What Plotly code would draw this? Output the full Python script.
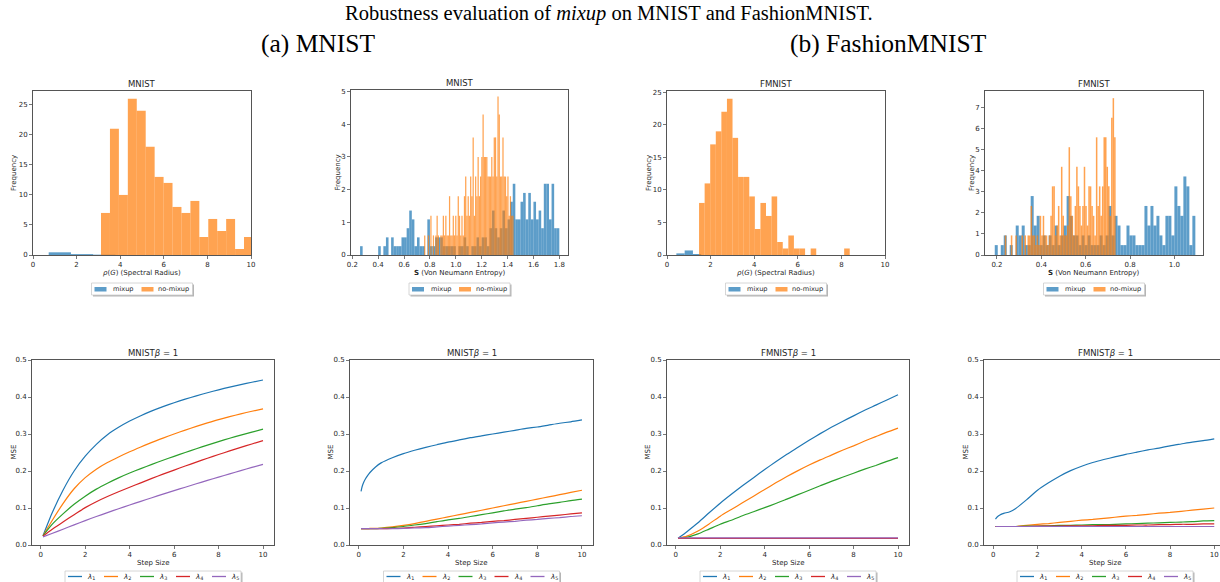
import plotly.graph_objects as go

W, H = 1220, 582

# ---------------- data ----------------
# (a) MNIST spectral radius histogram
mnist_rho_mixup_start, mnist_rho_mixup_width = 0.72, 1.02
mnist_rho_mixup = [0.45, 0.15, 0.06]
mnist_rho_nomix_start, mnist_rho_nomix_width = 3.12, 0.41
mnist_rho_nomix = [7, 21, 10, 26, 24, 18, 13, 12, 8, 7, 9, 3, 6, 4, 6, 1, 3]

# (a) MNIST von Neumann entropy histogram
mnist_S_mixup_start, mnist_S_mixup_width = 0.26, 0.02
mnist_S_mixup = [0.27, 0, 0, 0, 0, 0, 0, 0.27, 0, 0.27, 0.54, 0, 0.54, 0.27, 0.27, 0.27,
                 0.54, 0.54, 0.82, 1.36, 1.09, 0.27, 0.54, 0.27, 0.27, 0, 1.09, 0.27, 0.27,
                 0.54, 0.54, 0.54, 0.27, 0.27, 0.27, 0.27, 0.27, 0, 0.27, 0.27, 0.54, 0.27,
                 0, 0.27, 0.27, 0.54, 0.27, 0.54, 0.54, 0.27, 0.82, 1.36, 0.82, 0.54, 0.82,
                 1.36, 0.82, 1.09, 1.63, 2.18, 1.09, 1.09, 1.63, 1.9, 1.09, 1.9, 1.09, 1.63,
                 1.09, 1.36, 0.82, 2.18, 2.18, 1.09, 2.18, 0.82, 0.82]
mnist_S_nomix_start, mnist_S_nomix_width = 0.755, 0.0096
mnist_S_nomix = [0.6, 0, 0, 0.6, 0, 1.2, 0, 0.6, 0, 0.6, 1.2, 0.6, 0, 0.6, 0.6, 1.2, 0.6,
                 1.2, 0.6, 0.6, 1.8, 0.6, 0.6, 1.2, 0.6, 1.2, 0.6, 1.8, 1.2, 0.6, 1.2, 0.6,
                 1.8, 2.4, 1.2, 1.8, 1.2, 2.4, 1.8, 3.6, 1.2, 2.4, 1.8, 3.0, 1.8, 2.4, 3.0,
                 4.3, 3.0, 3.0, 3.0, 2.4, 2.4, 2.4, 3.0, 2.4, 3.6, 3.6, 2.4, 4.85, 4.3, 2.4,
                 2.4, 3.6, 2.4, 2.4, 1.8, 2.4, 1.2, 1.8, 1.2, 1.2]

# (b) FMNIST spectral radius histogram
fmnist_rho_mixup_start, fmnist_rho_mixup_width = 0.43, 0.38
fmnist_rho_mixup = [0.25, 0.7, 0.15]
fmnist_rho_nomix_start, fmnist_rho_nomix_width = 1.47, 0.256
fmnist_rho_nomix = [8, 11, 17, 19, 22, 24, 18, 12, 12, 9, 4, 8, 6, 9, 2, 1, 3, 1, 1, 0, 1,
                    0, 0, 0, 0, 0, 1]

# (b) FMNIST von Neumann entropy histogram
fmnist_S_mixup_start, fmnist_S_mixup_width = 0.19, 0.0135
fmnist_S_mixup = [0.47, 0, 0.47, 0.93, 0, 0.47, 0, 1.4, 0.93, 1.4, 0.47, 0.47, 2.8, 1.4,
                  1.86, 0.47, 0.93, 0.47, 0.93, 0.47, 1.4, 0.47, 0.93, 1.4, 2.8, 1.86, 0.93,
                  0.93, 0.47, 0.93, 0.47, 0.93, 0.47, 0.47, 0.47, 0.93, 0.47, 0.93, 2.33,
                  0.93, 1.86, 1.4, 0.47, 0.47, 1.4, 0.93, 0.93, 0.47, 0.47, 0.47, 2.33, 1.4,
                  2.33, 1.4, 1.86, 0.93, 0.47, 1.86, 1.86, 0.93, 3.26, 2.33, 1.86, 3.73,
                  3.26, 0.47, 1.86]
fmnist_S_nomix_start, fmnist_S_nomix_width = 0.235, 0.00685
fmnist_S_nomix = [0.93, 0, 0, 0, 0.93, 0, 0, 0.93, 0, 0, 0, 0.93, 0, 0.93, 0, 0.93, 0.93,
                  2.33, 0.93, 0.93, 0.47, 0.93, 0.47, 1.86, 0.93, 1.86, 0.93, 0.93, 0.47,
                  0.93, 1.86, 3.26, 3.26, 0.93, 1.4, 2.33, 0.93, 4.19, 1.86, 0.93, 0.93,
                  1.4, 5.12, 2.79, 1.86, 0.93, 2.33, 4.19, 3.26, 2.33, 1.4, 2.33, 4.19, 2.33,
                  1.4, 3.26, 3.26, 2.33, 1.86, 0.93, 5.59, 2.33, 3.26, 1.86, 3.26, 5.59,
                  5.59, 4.19, 3.26, 1.86, 6.52, 7.45, 5.59]

# MSE vs step size curves
step_x = [0.1, 0.5, 1.0, 1.5, 2.0, 2.5, 3.0, 3.5, 4.0, 4.5, 5.0, 5.5, 6.0, 6.5, 7.0,
          7.5, 8.0, 8.5, 9.0, 9.5, 10.0]
mnist_mse_a = [
    [0.025, 0.085, 0.148, 0.2, 0.24, 0.272, 0.298, 0.318, 0.335, 0.3495, 0.3625, 0.374,
     0.3845, 0.3942, 0.4032, 0.4116, 0.4194, 0.4267, 0.4335, 0.4399, 0.4459],
    [0.025, 0.065, 0.112, 0.152, 0.182, 0.205, 0.223, 0.238, 0.252, 0.265, 0.2775, 0.289,
     0.3, 0.3105, 0.3205, 0.33, 0.339, 0.347, 0.3545, 0.3615, 0.368],
    [0.025, 0.055, 0.084, 0.11, 0.132, 0.151, 0.167, 0.1815, 0.1945, 0.2065, 0.218, 0.229,
     0.2397, 0.2501, 0.2602, 0.27, 0.2794, 0.2884, 0.297, 0.3052, 0.313],
    [0.024, 0.042, 0.062, 0.082, 0.101, 0.117, 0.131, 0.144, 0.156, 0.168, 0.18, 0.1915,
     0.2025, 0.2135, 0.224, 0.2345, 0.2445, 0.2543, 0.2638, 0.2731, 0.2821],
    [0.022, 0.031, 0.0425, 0.0545, 0.066, 0.077, 0.0875, 0.098, 0.108, 0.118, 0.1278,
     0.1374, 0.1469, 0.1562, 0.1654, 0.1745, 0.1835, 0.1923, 0.201, 0.2096, 0.218],
]
step_x_fine = [0.1, 0.15, 0.2, 0.3, 0.4, 0.5, 0.75, 1.0, 1.5, 2.0, 2.5, 3.0, 3.5, 4.0,
               4.5, 5.0, 5.5, 6.0, 6.5, 7.0, 7.5, 8.0, 8.5, 9.0, 9.5, 10.0]
mnist_mse_b = [
    [0.145, 0.158, 0.167, 0.179, 0.188, 0.196, 0.211, 0.222, 0.236, 0.247, 0.256, 0.264,
     0.271, 0.278, 0.284, 0.29, 0.295, 0.3, 0.305, 0.31, 0.315, 0.319, 0.324, 0.329, 0.333, 0.338],
    [0.044, 0.044, 0.044, 0.044, 0.044, 0.045, 0.045, 0.046, 0.049, 0.053, 0.058, 0.064,
     0.07, 0.076, 0.082, 0.088, 0.094, 0.1, 0.106, 0.112, 0.118, 0.124, 0.13, 0.136, 0.142, 0.148],
    [0.044, 0.044, 0.044, 0.044, 0.044, 0.044, 0.044, 0.045, 0.047, 0.05, 0.054, 0.058,
     0.063, 0.068, 0.072, 0.077, 0.082, 0.087, 0.092, 0.097, 0.101, 0.106, 0.111, 0.115, 0.12, 0.124],
    [0.044, 0.044, 0.044, 0.044, 0.044, 0.044, 0.044, 0.044, 0.045, 0.046, 0.048, 0.05,
     0.052, 0.054, 0.056, 0.059, 0.061, 0.064, 0.066, 0.069, 0.072, 0.075, 0.078, 0.081, 0.084, 0.087],
    [0.044, 0.044, 0.044, 0.044, 0.044, 0.044, 0.044, 0.044, 0.044, 0.045, 0.046, 0.047,
     0.049, 0.051, 0.053, 0.055, 0.057, 0.06, 0.062, 0.064, 0.067, 0.069, 0.072, 0.074, 0.077, 0.079],
]
fmnist_mse_a = [
    [0.018, 0.036, 0.06, 0.087, 0.113, 0.137, 0.16, 0.182, 0.204, 0.225, 0.245, 0.264, 0.283,
     0.301, 0.318, 0.334, 0.349, 0.364, 0.378, 0.392, 0.406],
    [0.018, 0.024, 0.038, 0.057, 0.078, 0.096, 0.114, 0.132, 0.15, 0.168, 0.185, 0.201, 0.216,
     0.23, 0.243, 0.256, 0.268, 0.281, 0.293, 0.305, 0.316],
    [0.018, 0.021, 0.03, 0.043, 0.056, 0.067, 0.079, 0.09, 0.101, 0.112, 0.124, 0.136, 0.148,
     0.16, 0.172, 0.183, 0.194, 0.205, 0.215, 0.226, 0.236],
    [0.018] * 21,
    [0.019] * 21,
]
fmnist_mse_b = [
    [0.07, 0.074, 0.077, 0.081, 0.084, 0.086, 0.09, 0.098, 0.122, 0.148, 0.168, 0.186, 0.201,
     0.213, 0.223, 0.231, 0.238, 0.245, 0.251, 0.257, 0.262, 0.268, 0.273, 0.278, 0.282, 0.287],
    [0.05, 0.05, 0.05, 0.05, 0.05, 0.05, 0.05, 0.05, 0.053, 0.056, 0.058, 0.061, 0.064, 0.067,
     0.069, 0.072, 0.075, 0.078, 0.08, 0.083, 0.086, 0.088, 0.091, 0.094, 0.097, 0.1],
    [0.05, 0.05, 0.05, 0.05, 0.05, 0.05, 0.05, 0.05, 0.051, 0.051, 0.052, 0.053, 0.053, 0.054,
     0.055, 0.055, 0.056, 0.057, 0.058, 0.059, 0.06, 0.061, 0.062, 0.063, 0.065, 0.066],
    [0.05, 0.05, 0.05, 0.05, 0.05, 0.05, 0.05, 0.05, 0.05, 0.051, 0.051, 0.051, 0.052, 0.052,
     0.052, 0.053, 0.053, 0.053, 0.054, 0.054, 0.055, 0.055, 0.056, 0.056, 0.057, 0.057],
    [0.05] * 26,
]
lambda_names = ["<i>λ</i><sub>1</sub>", "<i>λ</i><sub>2</sub>", "<i>λ</i><sub>3</sub>",
                "<i>λ</i><sub>4</sub>", "<i>λ</i><sub>5</sub>"]
hist_names = ["mixup", "no-mixup"]

# ---------------- styling ----------------
TAB = ["#1f77b4", "#ff7f0e", "#2ca02c", "#d62728", "#9467bd"]
TAB_A = ["rgba(31,119,180,0.72)", "rgba(255,127,14,0.72)"]
FONT = "DejaVu Sans"
AX_COL = "#555555"
TXT_COL = "#262626"


def px_x(p):
    return p / W


def px_y(p):
    return 1 - p / H


# panel pixel boxes (left, right, top, bottom)
panels = [
    (33, 251, 91, 255), (351, 568, 90, 255), (667, 885, 91, 255), (985, 1203, 91, 255),
    (32, 274, 360, 545), (350, 593, 360, 545), (667, 909, 360, 545), (984, 1220, 360, 545),
]
centers = [142, 459.5, 776, 1094, 153, 471.5, 788, 1105]

fig = go.Figure()


def edges(start, width, n):
    return [start + width * i for i in range(n)]


def add_hist(idx, specs):
    ax = "" if idx == 1 else str(idx)
    for k, (start, width, vals) in enumerate(specs):
        fig.add_trace(go.Bar(
            x=edges(start, width, len(vals)), y=vals, width=width, offset=0,
            name=hist_names[k], marker=dict(color=TAB_A[k], line=dict(width=0)),
            xaxis="x" + ax, yaxis="y" + ax, showlegend=False,
        ))


def add_lines(idx, xs, series):
    ax = str(idx)
    for k, ys in enumerate(series):
        fig.add_trace(go.Scatter(
            x=xs, y=ys, mode="lines", name=lambda_names[k],
            line=dict(color=TAB[k], width=1.2, shape="spline", smoothing=0.6),
            xaxis="x" + ax, yaxis="y" + ax, showlegend=False,
        ))


add_hist(1, [(mnist_rho_mixup_start, mnist_rho_mixup_width, mnist_rho_mixup),
             (mnist_rho_nomix_start, mnist_rho_nomix_width, mnist_rho_nomix)])
add_hist(2, [(mnist_S_mixup_start, mnist_S_mixup_width, mnist_S_mixup),
             (mnist_S_nomix_start, mnist_S_nomix_width, mnist_S_nomix)])
add_hist(3, [(fmnist_rho_mixup_start, fmnist_rho_mixup_width, fmnist_rho_mixup),
             (fmnist_rho_nomix_start, fmnist_rho_nomix_width, fmnist_rho_nomix)])
add_hist(4, [(fmnist_S_mixup_start, fmnist_S_mixup_width, fmnist_S_mixup),
             (fmnist_S_nomix_start, fmnist_S_nomix_width, fmnist_S_nomix)])
add_lines(5, step_x, mnist_mse_a)
add_lines(6, step_x_fine, mnist_mse_b)
add_lines(7, step_x, fmnist_mse_a)
add_lines(8, step_x_fine, fmnist_mse_b)

x_ranges = [[0, 10], [0.19, 1.867], [0, 10], [0.146, 1.129],
            [-0.395, 10.495], [-0.395, 10.495], [-0.395, 10.495], [-0.42, 10.26]]
y_ranges = [[0, 27.3], [0, 5.05], [0, 25.2], [0, 7.79],
            [0, 0.5], [0, 0.5], [0, 0.5], [0, 0.5]]
x_ticks = [[0, 2, 4, 6, 8, 10], [0.2, 0.4, 0.6, 0.8, 1.0, 1.2, 1.4, 1.6, 1.8],
           [0, 2, 4, 6, 8, 10], [0.2, 0.4, 0.6, 0.8, 1.0]] + [[0, 2, 4, 6, 8, 10]] * 4
y_ticks = [[0, 5, 10, 15, 20, 25], [0, 1, 2, 3, 4, 5], [0, 5, 10, 15, 20, 25],
           [0, 1, 2, 3, 4, 5, 6, 7]] + [[0, 0.1, 0.2, 0.3, 0.4, 0.5]] * 4
x_fmt = ["d", ".1f", "d", ".1f", "d", "d", "d", "d"]
y_fmt = ["d", "d", "d", "d", ".1f", ".1f", ".1f", ".1f"]

axis_common = dict(showline=True, linecolor=AX_COL, linewidth=1, mirror=True,
                   ticks="outside", ticklen=3, tickwidth=0.8, tickcolor=AX_COL,
                   showgrid=False, zeroline=False, fixedrange=True,
                   tickfont=dict(family=FONT, size=7, color=TXT_COL))

layout = dict(
    width=W, height=H, margin=dict(l=0, r=0, t=0, b=0, autoexpand=False),
    paper_bgcolor="white", plot_bgcolor="white", barmode="overlay",
    font=dict(family=FONT, color=TXT_COL), showlegend=False,
)

for i, (l, r, t, b) in enumerate(panels):
    n = i + 1
    sx = "" if n == 1 else str(n)
    layout["xaxis" + sx] = dict(axis_common, domain=[px_x(l), min(1.0, px_x(r))],
                                range=x_ranges[i], tickvals=x_ticks[i],
                                tickformat=x_fmt[i], anchor="y" + sx)
    layout["yaxis" + sx] = dict(axis_common, domain=[px_y(b), px_y(t)], range=y_ranges[i],
                                tickvals=y_ticks[i], tickformat=y_fmt[i], anchor="x" + sx)

fig.update_layout(**layout)

# ---------------- text & legends ----------------
ann = []
shapes = []


def text(s, px, py, size, family=FONT, angle=0, color=TXT_COL, anchor="center"):
    ann.append(dict(text=s, x=px_x(px), y=px_y(py), xref="paper", yref="paper",
                    showarrow=False, xanchor=anchor, yanchor="middle",
                    textangle=angle, font=dict(family=family, size=size, color=color)))


def rect(x0, y0, x1, y1, fill, line_col=None, lw=0):
    shapes.append(dict(type="rect", xref="paper", yref="paper",
                       x0=px_x(x0), x1=px_x(x1), y0=px_y(y1), y1=px_y(y0),
                       fillcolor=fill, line=dict(color=line_col or fill, width=lw),
                       layer="above"))


def hline(x0, x1, y, col, lw=1.3):
    shapes.append(dict(type="line", xref="paper", yref="paper",
                       x0=px_x(x0), x1=px_x(x1), y0=px_y(y), y1=px_y(y),
                       line=dict(color=col, width=lw), layer="above"))


def legend_box(x0, y0, x1, y1):
    rect(x0 + 1.5, y0 + 1.5, x1 + 1.5, y1 + 1.5, "rgba(120,120,120,0.55)")
    rect(x0, y0, x1, y1, "white", "#cccccc", 0.8)


# row-1 legends (mixup / no-mixup)
for c in centers[:4]:
    x0 = c - 50.5
    legend_box(x0, 283, x0 + 101, 295)
    rect(x0 + 3, 287, x0 + 15, 291.5, TAB_A[0])
    text(hist_names[0], x0 + 19.5, 289.3, 6.6, anchor="left")
    rect(x0 + 50, 287, x0 + 62, 291.5, TAB_A[1])
    text(hist_names[1], x0 + 64.5, 289.3, 6.6, anchor="left")

# row-2 legends (lambda_1..5)
for c in centers[4:]:
    x0 = c - 88
    legend_box(x0, 571, x0 + 176, 588)
    for k in range(5):
        hline(x0 + 3 + 36 * k, x0 + 17 + 36 * k, 576.5, TAB[k])
        text(lambda_names[k], x0 + 20 + 36 * k, 577, 7, anchor="left")

SERIF = "Liberation Serif"
text("Robustness evaluation of <i>mixup</i> on MNIST and FashionMNIST.", 609, 13, 20.5, SERIF, color="black")
text("(a) MNIST", 318, 44, 25.5, SERIF, color="black")
text("(b) FashionMNIST", 888, 44, 25.5, SERIF, color="black")

titles = ["MNIST", "MNIST", "FMNIST", "FMNIST",
          "MNIST<i>β</i> = 1", "MNIST<i>β</i> = 1", "FMNIST<i>β</i> = 1", "FMNIST<i>β</i> = 1"]
xlabels = ["<i>ρ</i>(<i>G</i>) (Spectral Radius)", "<b>S</b> (Von Neumann Entropy)",
           "<i>ρ</i>(<i>G</i>) (Spectral Radius)", "<b>S</b> (Von Neumann Entropy)"] + ["Step Size"] * 4
ylabels = ["Frequency"] * 4 + ["MSE"] * 4
ylabel_x = [14, 337, 649, 972, 13, 330, 647, 965]

for i, (l, r, t, b) in enumerate(panels):
    cx = centers[i]
    text(titles[i], cx, t - 7, 8.5)
    text(xlabels[i], cx, b + 18, 7)
    text(ylabels[i], ylabel_x[i], (t + b) / 2, 7, angle=-90)

fig.update_layout(annotations=ann, shapes=shapes)
fig.write_html(
    "out.html",
    config={"displayModeBar": False, "staticPlot": True},
    post_script="document.body.style.margin='0px';document.body.style.overflow='hidden';",
)
